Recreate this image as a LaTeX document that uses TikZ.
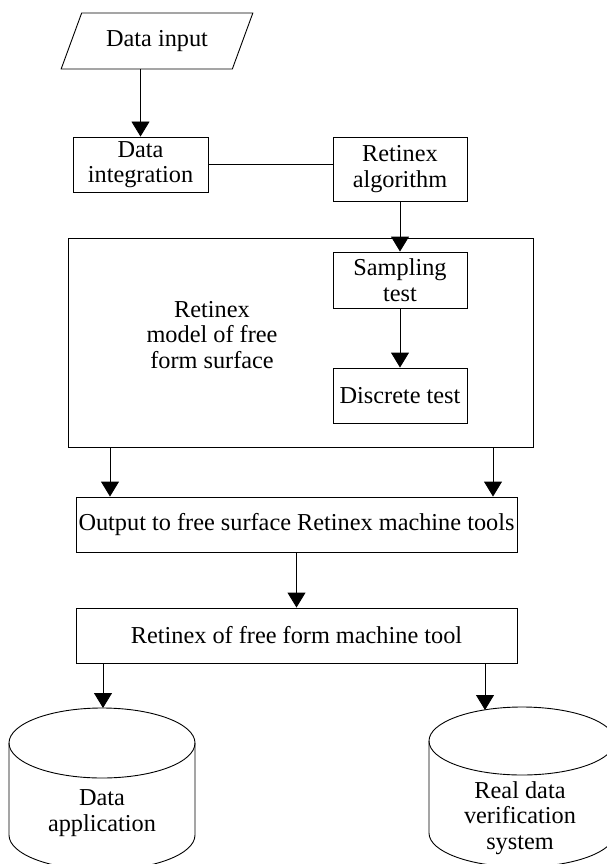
\documentclass[tikz,border=0pt]{standalone}
\usepackage{fontspec}
\setmainfont{Liberation Serif}
\usetikzlibrary{arrows.meta,shapes.geometric}
\newcommand\diagfont{\fontsize{24.3}{25.5}\selectfont}
\begin{document}
\begin{tikzpicture}[x=1pt,y=-1pt,
  lw/.style={line width=0.9pt},
  box/.style={draw, lw, inner sep=1pt, align=center, font=\diagfont},
  lbl/.style={inner sep=0pt, align=center, font=\diagfont},
  arr/.style={draw, lw, -{Triangle[width=18pt,length=15pt]}},
  ln/.style={draw, lw}]
\useasboundingbox (0,0) rectangle (607,864);
\clip (0,0) rectangle (607,864);
% nodes
\node[box, trapezium, trapezium left angle=58.7, trapezium right angle=121.3,
      trapezium stretches=true, minimum width=192pt, minimum height=56pt] (in) at (157,41) {Data input};
\node[box, minimum width=135pt, minimum height=55pt] (di) at (140.5,164.5) {Data\\integration};
\node[box, minimum width=134pt, minimum height=64pt] (ra) at (400,169) {Retinex\\algorithm};
\node[box, minimum width=465pt, minimum height=209pt] (big) at (300.5,342.5) {};
\node[lbl] (rm) at (212,335) {Retinex\\model of free\\form surface};
\node[box, minimum width=134pt, minimum height=56pt] (st) at (400,280) {Sampling\\test};
\node[box, minimum width=134pt, minimum height=55pt] (dt) at (400,395.5) {Discrete test};
\node[box, minimum width=441pt, minimum height=55pt] (out) at (296.5,524.5) {Output to free surface Retinex machine tools};
\node[box, minimum width=441pt, minimum height=55pt] (rf) at (296.5,635.5) {Retinex of free form machine tool};
% cylinders
\draw[lw] (102,743) ellipse [x radius=93pt, y radius=35pt];
\draw[lw] (9,743) -- (9,835) arc[start angle=180, end angle=360, x radius=93pt, y radius=35pt] -- (195,743);
\node[lbl] (da) at (102,813) {Data\\application};
\coordinate (datop) at (103,708);
\draw[lw] (522,741) ellipse [x radius=93pt, y radius=34pt];
\draw[lw] (429,741) -- (429,833) arc[start angle=180, end angle=360, x radius=93pt, y radius=34pt] -- (615,741);
\node[lbl] (rv) at (520,818) {Real data\\verification\\system};
\coordinate (rvtop) at (485,710);
\coordinate (xl) at (110,0);
\coordinate (xr) at (493,0);
% connectors
\draw[arr] (in.south -| di.north) -- (di.north);
\draw[ln] (di.east) -- (di.east -| ra.west);
\draw[arr] (ra.south) -- (st.north);
\draw[arr] (st.south) -- (dt.north);
\draw[arr] (big.south -| xl) -- (out.north -| xl);
\draw[arr] (big.south -| xr) -- (out.north -| xr);
\draw[arr] (out.south) -- (rf.north);
\draw[arr] (rf.south -| datop) -- (datop);
\draw[arr] (rf.south -| rvtop) -- (rvtop);
\end{tikzpicture}
\end{document}
